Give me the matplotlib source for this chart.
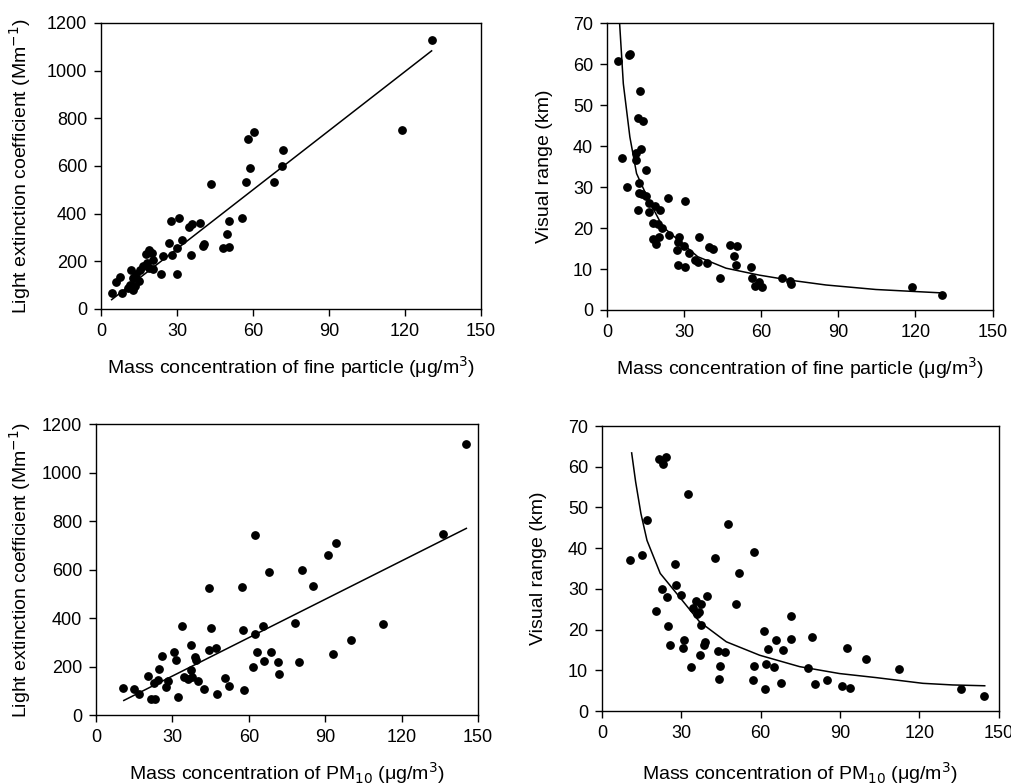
import matplotlib.pyplot as plt

plt.rcParams['font.family'] = ['Liberation Sans', 'DejaVu Sans']

# fine particle mass (ug/m3) vs light extinction (Mm-1)
fine_x = [130.5, 118.9, 60.5, 57.9, 71.7, 58.7, 71.3, 57.1, 68.3, 43.6,
          55.8, 50.4, 49.7, 48.0, 50.7, 39.2, 35.9, 34.6, 30.7, 27.6,
          32.0, 26.8, 29.9, 27.9, 24.5, 35.7, 40.1, 40.7, 30.1, 23.6,
          18.8, 17.8, 20.1, 20.7, 18.3, 16.7, 19.1, 20.7, 15.4, 13.9,
          11.7, 12.8, 14.9, 11.4, 13.4, 12.8, 10.7, 7.5, 5.9, 4.3, 8.2]
fine_ext = [1127, 753, 744, 713, 665, 592, 601, 533, 532, 526,
            382, 371, 314, 255, 262, 360, 356, 342, 380, 368,
            290, 275, 255, 226, 223, 227, 265, 272, 148, 147,
            248, 232, 234, 206, 193, 179, 172, 167, 162, 148,
            165, 130, 116, 102, 95, 78, 88, 134, 112, 67, 66]
fine_line_x = [4.2, 130.5]
fine_line_y = [39, 1083]

# fine particle mass vs visual range (km)
fine_vx = [4.4, 8.4, 8.8, 5.8, 7.6, 13.0, 12.2, 14.0, 13.3, 11.3,
           11.4, 15.3, 12.6, 12.3, 12.2, 13.6, 15.2, 16.2, 16.5, 18.7,
           20.6, 23.6, 30.2, 17.9, 19.7, 21.4, 20.4, 17.8, 19.0, 24.2,
           27.9, 27.1, 27.5, 29.8, 31.8, 27.6, 30.2, 34.1, 35.4, 35.9,
           39.0, 39.8, 41.1, 44.0, 47.8, 50.7, 49.6, 50.2, 55.9, 56.6,
           57.7, 59.3, 60.3, 68.1, 71.2, 71.6, 118.5, 130.2]
fine_vr = [60.7, 62.1, 62.4, 37.0, 30.0, 53.4, 46.9, 46.0, 39.3, 38.2,
           36.5, 34.2, 31.1, 28.6, 24.5, 28.4, 27.9, 26.2, 23.8, 25.3,
           24.5, 27.3, 26.5, 21.2, 21.0, 19.9, 17.7, 17.2, 16.2, 18.3,
           17.7, 14.6, 16.6, 15.7, 14.0, 11.0, 10.6, 12.2, 11.6, 17.9,
           11.4, 15.4, 15.0, 7.7, 15.8, 15.6, 13.1, 11.0, 10.6, 7.9,
           5.8, 6.9, 5.5, 7.9, 7.1, 6.3, 5.5, 3.7]
fine_curve_x = [4.9, 6.35, 8.9, 11.5, 16.2, 21.7, 35.3, 46.3, 59.3, 70.9, 85.2, 104.6, 129.3]
fine_curve_y = [70.0, 55.2, 42.2, 33.3, 26.8, 20.3, 13.0, 10.2, 8.5, 7.3, 6.1, 5.0, 4.2]

# PM10 mass vs light extinction
pm_x = [145.4, 136.1, 62.4, 94.1, 91.0, 80.8, 67.8, 85.1, 44.4, 57.4,
        33.7, 45.2, 57.8, 65.6, 62.3, 78.0, 112.5, 100.0, 93.0, 79.8,
        63.1, 68.8, 66.1, 71.4, 71.9, 61.5, 58.2, 47.1, 44.2, 37.4,
        38.8, 39.3, 30.8, 31.3, 26.0, 24.6, 37.4, 20.3, 34.4, 36.2,
        40.1, 28.3, 27.6, 24.5, 22.7, 42.5, 50.5, 52.1, 47.6, 32.1,
        21.5, 23.3, 10.5, 14.9, 17.0, 37.5]
pm_ext = [1120, 748, 742, 708, 661, 598, 588, 531, 525, 528,
          366, 357, 351, 366, 335, 378, 375, 308, 252, 217,
          260, 260, 224, 220, 168, 199, 102, 275, 268, 289,
          241, 227, 258, 227, 245, 188, 187, 162, 158, 148,
          140, 140, 114, 146, 132, 107, 151, 120, 87, 76,
          66, 66, 110, 106, 87, 155]
pm_line_x = [10.9, 145.4]
pm_line_y = [60, 770]

# PM10 mass vs visual range
pm_vx = [10.5, 15.0, 17.1, 21.5, 24.1, 23.1, 32.6, 47.5, 57.6, 42.6,
         51.6, 27.7, 28.1, 22.5, 24.4, 29.8, 39.8, 35.4, 37.3, 34.4,
         36.5, 35.8, 20.3, 50.5, 71.5, 24.8, 37.3, 38.9, 38.5, 31.0,
         30.7, 25.8, 37.2, 33.5, 44.0, 46.4, 44.7, 44.1, 61.2, 65.9,
         62.9, 68.4, 71.3, 57.3, 62.0, 65.1, 57.2, 61.8, 67.5, 79.5,
         77.7, 80.5, 85.0, 90.6, 93.6, 92.6, 99.9, 112.3, 135.6, 144.3]
pm_vr = [37.0, 38.4, 47.0, 62.0, 62.3, 60.6, 53.2, 45.9, 39.1, 37.7,
         34.0, 36.2, 30.9, 29.9, 27.9, 28.5, 28.2, 27.1, 26.3, 25.4,
         24.4, 23.8, 24.5, 26.4, 23.4, 20.9, 21.1, 17.0, 16.2, 17.4,
         15.5, 16.2, 13.7, 10.8, 14.8, 14.5, 11.0, 7.9, 19.6, 17.4,
         15.2, 15.1, 17.8, 11.1, 11.5, 10.7, 7.6, 5.4, 6.9, 18.1,
         10.5, 6.7, 7.5, 6.1, 5.6, 15.5, 12.7, 10.3, 5.3, 3.8]
pm_curve_x = [11.2, 12.7, 14.7, 17.0, 22.0, 29.3, 36.9, 47.0, 59.6, 74.7, 89.8, 103.7, 121.3, 132.6, 144.7]
pm_curve_y = [63.4, 56.3, 48.5, 41.9, 33.8, 28.0, 21.9, 17.0, 13.7, 10.9, 9.2, 8.2, 6.8, 6.4, 6.2]

xlabel_fine = 'Mass concentration of fine particle (\u03bcg/m$^3$)'
xlabel_pm = 'Mass concentration of PM$_{10}$ (\u03bcg/m$^3$)'
ylabel_ext = 'Light extinction coefficient (Mm$^{-1}$)'
ylabel_vr = 'Visual range (km)'

fig = plt.figure(figsize=(10.12, 7.84), dpi=100)
ax1 = fig.add_axes([0.0998, 0.6059, 0.3755, 0.3648])
ax2 = fig.add_axes([0.5998, 0.6046, 0.3810, 0.3660])
ax3 = fig.add_axes([0.0949, 0.0880, 0.3775, 0.3710])
ax4 = fig.add_axes([0.5949, 0.0931, 0.3920, 0.3635])

# ax, x, y, fit x, fit y, xlabel, ylabel, ymax, ystep, xpad, ypad
panels = [
    (ax1, fine_x, fine_ext, fine_line_x, fine_line_y, xlabel_fine, ylabel_ext, 1200, 200, 10, 10),
    (ax2, fine_vx, fine_vr, fine_curve_x, fine_curve_y, xlabel_fine, ylabel_vr, 70, 10, 10, 14),
    (ax3, pm_x, pm_ext, pm_line_x, pm_line_y, xlabel_pm, ylabel_ext, 1200, 200, 10, 6),
    (ax4, pm_vx, pm_vr, pm_curve_x, pm_curve_y, xlabel_pm, ylabel_vr, 70, 10, 13, 15),
]

for ax, xs, ys, lx, ly, xl, yl, ymax, ystep, xpad, ypad in panels:
    ax.scatter(xs, ys, s=28, color='black', zorder=3, clip_on=False)
    ax.plot(lx, ly, color='black', lw=1.1)
    ax.set_xlim(0, 150)
    ax.set_ylim(0, ymax)
    ax.set_xticks(range(0, 151, 30))
    ax.set_yticks(range(0, ymax + 1, ystep))
    ax.tick_params(direction='out', length=5, width=1, labelsize=13, pad=5)
    for sp in ax.spines.values():
        sp.set_linewidth(1.0)
    ax.set_xlabel(xl, fontsize=14, labelpad=xpad)
    ax.set_ylabel(yl, fontsize=14, labelpad=ypad)

fig.savefig('out.png', dpi=100)
